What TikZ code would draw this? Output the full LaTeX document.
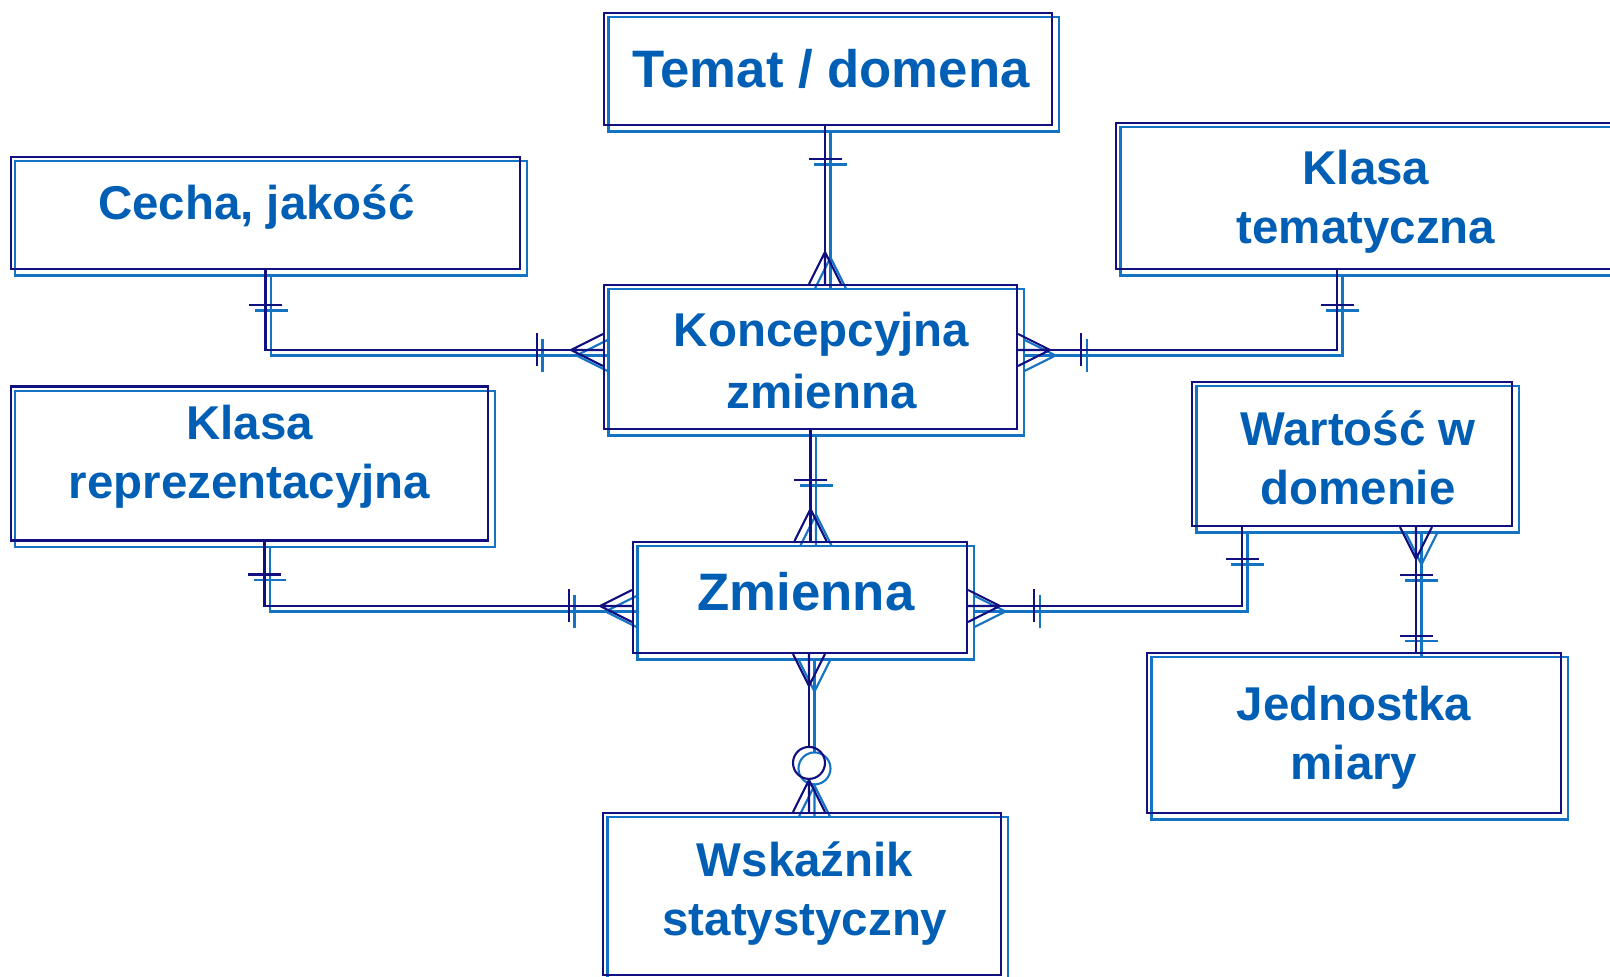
\documentclass[tikz,border=0pt]{standalone}
\usepackage{fontspec}
\setmainfont{Liberation Sans}
\usepackage{xcolor}
\usepackage{tikz}
\usetikzlibrary{positioning,backgrounds}
\definecolor{ERNavy}{RGB}{16, 16, 128}
\definecolor{ERLite}{RGB}{20, 115, 195}
\definecolor{ERText}{RGB}{0, 95, 180}
\tikzstyle{entity} = [rectangle, draw=ERNavy, line width=0.6pt, inner sep=0pt]
\tikzstyle{etext} = [inner sep=0pt, align=center, text=ERText, font=\bfseries\fontsize{13.5}{16.8}\selectfont]
\tikzstyle{bigtext} = [etext, font=\bfseries\fontsize{15}{18}\selectfont]
\tikzstyle{link} = [line width=0.6pt]
\tikzset{
  crow/.pic={\draw (-0.16,0) -- (0,0.32) -- (0.16,0) (0,0) -- (0,0.32);},
  pics/onebar/.style={code={\draw (-0.165,#1) -- (0.165,#1);}},
  pics/ring/.style={code={\draw (0,#1) circle (0.16);}}
}
% all relationship lines with their end marks
\newcommand{\erlinks}{%
  % Temat / domena -- Koncepcyjna zmienna
  \draw (tematS) -- (tematS |- konc.north);
  \pic[rotate=180] at (tematS) {onebar=0.33};
  \pic at (tematS |- konc.north) {crow};
  % Cecha -- Koncepcyjna zmienna
  \draw (cecha.south) |- (koncW);
  \pic[rotate=180] at (cecha.south) {onebar=0.35};
  \pic[rotate=90] at (koncW) {onebar=0.66};
  \pic[rotate=90] at (koncW) {crow};
  % Klasa tematyczna -- Koncepcyjna zmienna
  \draw (kltemS) |- (koncE);
  \pic[rotate=180] at (kltemS) {onebar=0.35};
  \pic[rotate=-90] at (koncE) {onebar=0.63};
  \pic[rotate=-90] at (koncE) {crow};
  % Koncepcyjna zmienna -- Zmienna
  \draw (konc.south) -- (konc.south |- zmienna.north);
  \pic[rotate=180] at (konc.south) {onebar=0.50};
  \pic at (konc.south |- zmienna.north) {crow};
  % Klasa reprezentacyjna -- Zmienna
  \draw (klrepS) |- (zmW);
  \pic[rotate=180] at (klrepS) {onebar=0.33};
  \pic[rotate=90] at (zmW) {onebar=0.63};
  \pic[rotate=90] at (zmW) {crow};
  % Wartosc w domenie -- Zmienna
  \draw (wartL) |- (zmE);
  \pic[rotate=180] at (wartL) {onebar=0.32};
  \pic[rotate=-90] at (zmE) {onebar=0.66};
  \pic[rotate=-90] at (zmE) {crow};
  % Wartosc w domenie -- Jednostka miary
  \draw (wartR) -- (wartR |- jednostka.north);
  \pic[rotate=180] at (wartR) {crow};
  \pic[rotate=180] at (wartR) {onebar=0.48};
  \pic at (wartR |- jednostka.north) {onebar=0.16};
  % Zmienna -- Wskaznik statystyczny
  \draw (wskN |- zmienna.south) -- ([yshift=0.65cm]wskN);
  \pic[rotate=180] at (wskN |- zmienna.south) {crow};
  \pic at (wskN) {ring=0.49};
  \pic at (wskN) {crow};
}

\begin{document}
\begin{tikzpicture}
\useasboundingbox (0,0) rectangle (16.10,9.77);

% Encje
\node (temat) [entity, minimum width=4.48cm, minimum height=1.12cm] at (8.28,9.08) {};
\node (cecha) [entity, minimum width=5.09cm, minimum height=1.12cm] at (2.655,7.64) {};
\node (klasatem) [entity, minimum width=5.00cm, minimum height=1.46cm] at (13.66,7.81) {};
\node (konc) [entity, minimum width=4.13cm, minimum height=1.44cm] at (8.105,6.20) {};
\node (klasarep) [entity, minimum width=4.77cm, minimum height=1.54cm] at (2.495,5.135) {};
\node (wartosc) [entity, minimum width=3.20cm, minimum height=1.44cm] at (13.52,5.23) {};
\node (zmienna) [entity, minimum width=3.34cm, minimum height=1.11cm] at (8.00,3.795) {};
\node (jednostka) [entity, minimum width=4.14cm, minimum height=1.60cm] at (13.54,2.44) {};
\node (wskaznik) [entity, minimum width=3.98cm, minimum height=1.62cm] at (8.02,0.83) {};

% Napisy
\node (tematT) [bigtext] at ([shift={(0.03,0)}]temat.center) {Temat / domena};
\node (cechaT) [etext] at ([shift={(-0.09,0.06)}]cecha.center) {Cecha, jakość};
\node (klasatemT) [etext] at ([shift={(0,-0.06)}]klasatem.center) {Klasa\\tematyczna};
\node (koncT) [etext, font=\bfseries\fontsize{13.5}{17.6}\selectfont] at ([shift={(0.11,-0.035)}]konc.center) {Koncepcyjna\\zmienna};
\node (klasarepT) [etext] at ([shift={(0,0.07)}]klasarep.center) {Klasa\\reprezentacyjna};
\node (wartoscT) [etext] at ([shift={(0.06,-0.035)}]wartosc.center) {Wartość w\\domenie};
\node (zmiennaT) [bigtext] at ([shift={(0.06,0.06)}]zmienna.center) {Zmienna};
\node (jednostkaT) [etext] at ([shift={(0,-0.05)}]jednostka.center) {Jednostka\\miary};
\node (wskaznikT) [etext] at ([shift={(0.03,0)}]wskaznik.center) {Wskaźnik\\statystyczny};

% Punkty zaczepienia
\coordinate (tematS) at ([xshift=-0.03cm]temat.south);
\coordinate (kltemS) at ([xshift=-0.29cm]klasatem.south);
\coordinate (klrepS) at ([xshift=0.15cm]klasarep.south);
\coordinate (wartL) at ([xshift=-1.10cm]wartosc.south);
\coordinate (wartR) at ([xshift=0.64cm]wartosc.south);
\coordinate (wskN) at ([xshift=0.07cm]wskaznik.north);
\coordinate (koncW) at ([yshift=0.07cm]konc.west);
\coordinate (koncE) at ([yshift=0.07cm]konc.east);
\coordinate (zmW) at ([yshift=-0.085cm]zmienna.west);
\coordinate (zmE) at ([yshift=-0.085cm]zmienna.east);

% Druga, jasna kopia linii
\begin{scope}[on background layer]
\begin{scope}[link, color=ERLite, transform canvas={shift={(0.055,-0.055)}}]
  \foreach \n in {temat,cecha,klasatem,konc,klasarep,wartosc,zmienna,jednostka,wskaznik}
    \draw (\n.north west) rectangle (\n.south east);
  \erlinks
\end{scope}
\end{scope}

% Relacje
\begin{scope}[link, color=ERNavy]
  \erlinks
\end{scope}

\end{tikzpicture}
\end{document}
